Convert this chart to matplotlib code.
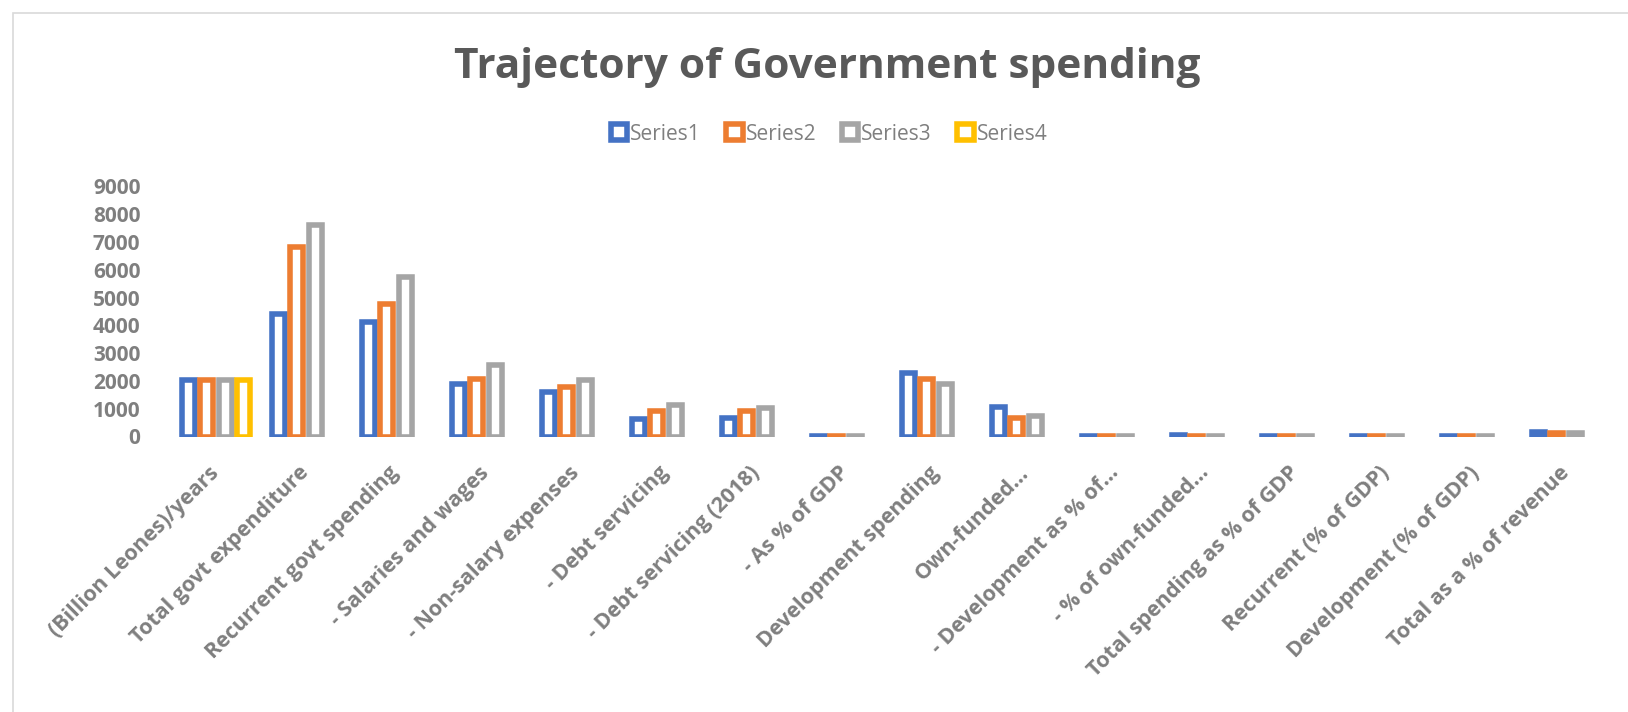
import numpy as np
import matplotlib
matplotlib.use("Agg")
import matplotlib.pyplot as plt
from matplotlib.patches import Rectangle

categories = ["(Billion Leones)/years", "Total govt expenditure", "Recurrent govt spending",
              "- Salaries and wages", "- Non-salary expenses", "- Debt servicing",
              "- Debt servicing (2018)", "- As % of GDP", "Development spending",
              "Own-funded...", "- Development as % of...", "- % of own-funded...",
              "Total spending as % of GDP", "Recurrent (% of GDP)", "Development (% of GDP)",
              "Total as a % of revenue"]

series1 = [2019, 4420, 4105, 1900, 1620, 615, 675, 20, 2295, 1070, 22, 50, 25, 18, 10, 165]
series2 = [2020, 6830, 4755, 2055, 1790, 915, 915, 20, 2080, 675, 20, 25, 25, 18, 10, 120]
series3 = [2021, 7610, 5740, 2585, 2045, 1130, 1035, 20, 1885, 745, 20, 25, 25, 18, 10, 118]
series4 = [2022] + [np.nan] * 15

names = ["Series1", "Series2", "Series3", "Series4"]
colors = ["#4472C4", "#ED7D31", "#A5A5A5", "#FFC000"]
yticks = [0, 1000, 2000, 3000, 4000, 5000, 6000, 7000, 8000, 9000]

grey = "#595959"
tick_grey = "#7F7F7F"

fig = plt.figure(figsize=(16.28, 7.12), dpi=100)
ax = fig.add_axes([171 / 1628, 1 - 436.5 / 712, 1440 / 1628, 250 / 712])

x = np.arange(len(categories))
step = 0.2035
w = 0.142
for i, (vals, name, c) in enumerate(zip([series1, series2, series3, series4], names, colors)):
    ax.bar(x - 1.5 * step + i * step, vals, width=w, facecolor="white", edgecolor=c,
           linewidth=4, label=name)

ax.set_xlim(-0.5, len(categories) - 0.5)
ax.set_ylim(0, 9000)
ax.set_yticks(yticks)
ax.set_yticklabels([str(t) for t in yticks], fontfamily="Open Sans", fontweight="bold",
                   fontsize=15, color=tick_grey)
ax.set_xticks(x)
ax.set_xticklabels(categories, rotation=45, ha="right", va="center", rotation_mode="anchor",
                   fontfamily="Open Sans", fontweight="bold", fontsize=15.5, color=tick_grey)
ax.tick_params(axis="y", length=0, pad=22)
ax.tick_params(axis="x", length=0, pad=24)
for s in ax.spines.values():
    s.set_visible(False)

fig.text(827 / 1628, 1 - 78 / 712, "Trajectory of Government spending", ha="center",
         va="baseline", fontfamily="Open Sans", fontweight="bold", fontsize=30.5, color=grey)

fig.legend(loc="center", bbox_to_anchor=(829 / 1628, 1 - 134 / 712), ncol=4, frameon=False,
           handlelength=0.8, handleheight=0.8, handletextpad=0.15, columnspacing=1.2,
           prop={"family": "Open Sans", "size": 15}, labelcolor=tick_grey)

fig.patches.append(Rectangle((13 / 1628, -0.1), 1.2, 1.1 - 13 / 712, transform=fig.transFigure,
                             facecolor="none", edgecolor="#D9D9D9", linewidth=1.2))

fig.savefig("out.png", dpi=100)
